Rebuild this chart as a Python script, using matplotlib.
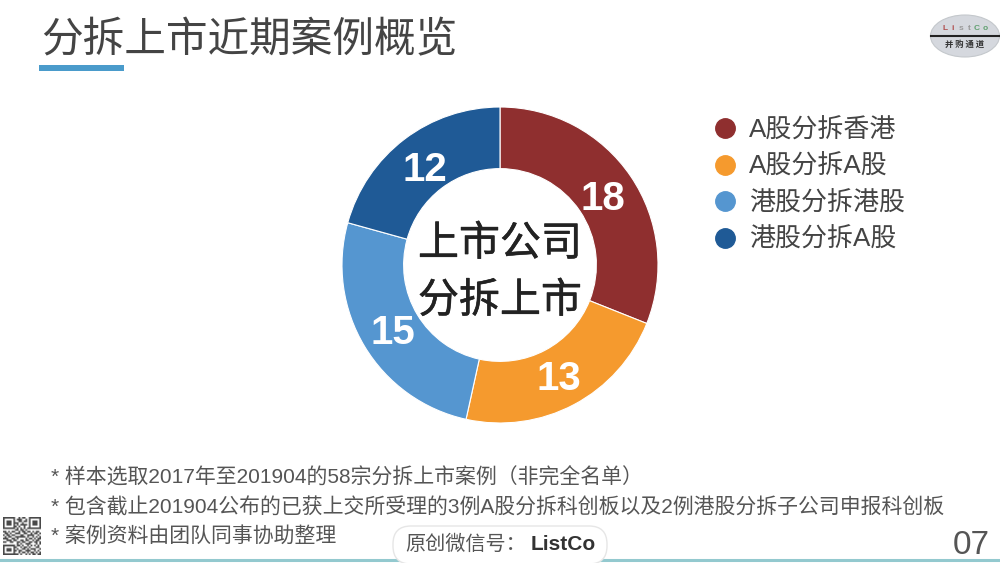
import matplotlib
matplotlib.use("Agg")
import matplotlib.pyplot as plt
import matplotlib.patheffects as pe
from matplotlib.lines import Line2D
from matplotlib.patches import Ellipse, FancyBboxPatch, Rectangle
import numpy as np

plt.rcParams['font.family'] = ['Liberation Sans', 'Noto Sans CJK SC', 'DejaVu Sans']

categories = ['A股分拆香港', 'A股分拆A股', '港股分拆港股', '港股分拆A股']
values = [18, 13, 15, 12]
colors = ['#8f2f2f', '#f59a2e', '#5596d0', '#1f5a96']

title = '分拆上市近期案例概览'
center_lines = ['上市公司', '分拆上市']
notes = ['* 样本选取2017年至201904的58宗分拆上市案例（非完全名单）',
         '* 包含截止201904公布的已获上交所受理的3例A股分拆科创板以及2例港股分拆子公司申报科创板',
         '* 案例资料由团队同事协助整理']

qr_rows = ['1111111001011001111111',
           '1000001011100101000001',
           '1011101001101101011101',
           '1011101110010001011101',
           '1011101010111101011101',
           '1000001101001001000001',
           '1111111010101011111111',
           '0000000110110100000000',
           '1101011001011011010110',
           '0110100111001100101101',
           '1011011000110011110010',
           '0101100111111010010101',
           '1110011010000101101011',
           '0011101100110110010110',
           '1100110011011001101101',
           '0000000010100111000101',
           '1111111011010010101010',
           '1000001100101101000110',
           '1011101010011010111001',
           '1011101101100111001010',
           '1000001001011010110101',
           '1111111110100101011011']

fig = plt.figure(figsize=(10, 5.63), dpi=100)

# page layer in pixel coords
page = fig.add_axes([0, 0, 1, 1])
page.set_xlim(0, 1000)
page.set_ylim(563, 0)
page.axis('off')

page.text(41, 41, title, fontsize=30, color='#444444', va='center', ha='left',
          family=['Noto Sans CJK SC'])
page.add_patch(Rectangle((39, 65), 85, 6, color='#4a9bcb', lw=0))

# logo
page.add_patch(Ellipse((965, 36), 69, 42, fc='#d5d8de', ec='#c4c8cc', lw=0.8))
page.plot([931, 999], [36, 36], color='#222222', lw=1.5)
for i, (ch, c) in enumerate(zip('ListCo', ['#b05050', '#b05050', '#999999', '#999999', '#60a070', '#60a070'])):
    page.text(945 + i * 8, 29, ch, fontsize=6, color=c, ha='center', va='center', fontweight='bold')
page.text(965, 44, '并 购 通 道', fontsize=6, color='#333333', ha='center', va='center',
          family=['Noto Sans CJK SC'], fontweight='bold')

# donut
ax = fig.add_axes([(500 - 158) / 1000, 1 - (265 + 158) / 563, 316 / 1000, 316 / 563])
wedges, labels = ax.pie(values, colors=colors, startangle=90, counterclock=False, radius=1,
                        labels=[str(v) for v in values], labeldistance=0.79,
                        wedgeprops=dict(width=0.39, edgecolor='white', linewidth=0.8))
for t in labels:
    t.set(color='white', fontsize=29, fontweight='bold', ha='center', va='center')
    x, y = t.get_position()
    t.set_position((x, y - 0.025))
ax.set_xlim(-1, 1)
ax.set_ylim(-1, 1)

for txt, y in zip(center_lines, [244, 301]):
    page.text(500, y, txt, fontsize=29.5, color='#222222', ha='center', va='center',
              family=['Noto Sans CJK SC'], zorder=5,
              path_effects=[pe.withStroke(linewidth=0.4, foreground='#222222')])

handles = [Line2D([], [], marker='o', ls='', ms=14, color=c) for c in colors]
leg = page.legend(handles, categories, loc='upper left', bbox_to_anchor=(0.7125, 0.79),
                  frameon=False, prop={'size': 18.7}, labelspacing=0.47, handletextpad=0.42,
                  borderpad=0, borderaxespad=0, handlelength=1.0)
for t in leg.get_texts():
    t.set_color('#444444')

# footnotes
for txt, y in zip(notes, [477, 507, 536]):
    page.text(51, y, txt, fontsize=15.03, color='#555555', ha='left', va='center')

# qr code
qr = np.array([[int(c) for c in row] for row in qr_rows])
page.imshow(qr, cmap='gray_r', vmin=0, vmax=1.4, extent=(3, 41, 555, 517), aspect='auto',
            interpolation='bilinear', zorder=2)
page.set_xlim(0, 1000)
page.set_ylim(563, 0)

# bottom rule and wechat pill
page.plot([0, 1000], [559.5, 559.5], color='#93c9cf', lw=2.2, zorder=1)
page.add_patch(FancyBboxPatch((393, 526), 214, 38, boxstyle='round,pad=0,rounding_size=18',
                              fc='white', ec='#e6e6e6', lw=1, zorder=3, clip_on=True))
page.text(405, 544, '原创微信号：', fontsize=14.5, color='#555555', ha='left', va='center', zorder=4)
page.text(531, 544, 'ListCo', fontsize=15, color='#333333', ha='left', va='center',
          fontweight='bold', zorder=4)
page.text(990, 545, '07', fontsize=24, color='#555555', ha='right', va='center')

fig.savefig('out.png', dpi=100)
